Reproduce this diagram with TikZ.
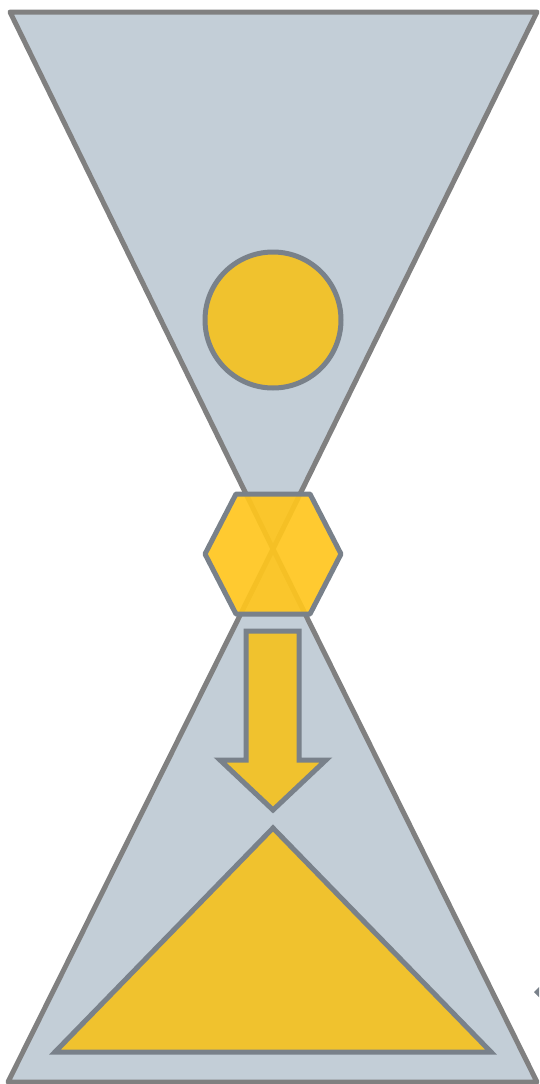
\documentclass[tikz,border=0pt]{standalone}
\usepackage{tikz}
\usetikzlibrary{calc}

\definecolor{glassfill}{HTML}{C3CED7}
\definecolor{glassline}{HTML}{808080}
\definecolor{sandfill}{HTML}{F0C22E}
\definecolor{hexfill}{HTML}{FFC61E}
\definecolor{sandline}{HTML}{79818A}

\tikzset{
  glass/.style={fill=glassfill, draw=glassline, line width=5pt, line join=round},
  sand/.style={fill=sandfill, draw=sandline, line width=5pt, line join=miter},
}

\begin{document}
\begin{tikzpicture}[x=1pt, y=-1pt]
			\useasboundingbox (0,0) rectangle (539,1084);
			\clip (0,0) rectangle (539,1084);
			
			% Upper bulb
			\draw[glass] (10,12) -- (537,12) -- (273,549) -- cycle;
			\fill[sandfill, draw=sandline, line width=5pt] (273,320) circle (68);
			
			% Lower bulb
			\draw[glass] (273,549) -- (537,1082) -- (8,1082) -- cycle;
			
			% Neck
			\draw[fill=hexfill, fill opacity=0.92, draw=sandline, line width=5pt, line join=round]
			(205,554) -- (236,494) -- (310,494) -- (341,554) -- (310,614) -- (236,614) -- cycle;
			
			% Falling sand
			\draw[sand] (246,631) -- (299,631) -- (299,760) -- (326,760) -- (273,810)
			-- (220,760) -- (246,760) -- cycle;
			
			% Sand heap
			\draw[sand] (273,828) -- (491,1052) -- (55,1052) -- cycle;
			
			% Handle at the edge
			\fill[sandline] (534,992) -- (541,985) -- (548,992) -- (541,999) -- cycle;
		\end{tikzpicture}
\end{document}
